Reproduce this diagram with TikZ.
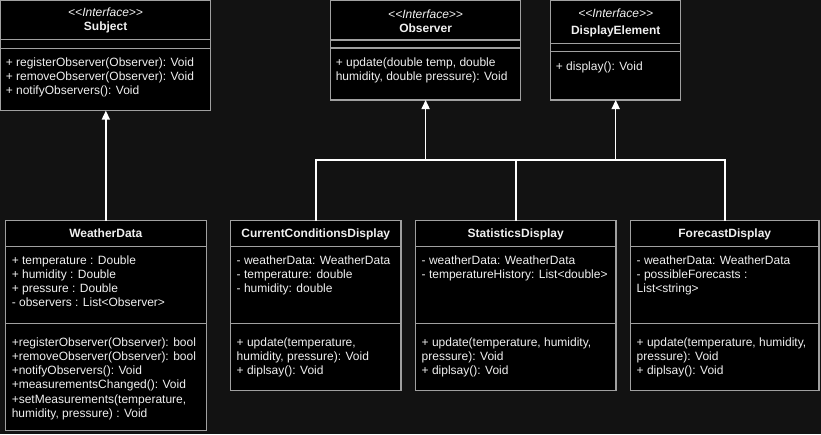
\documentclass[tikz,border=0pt]{standalone}
\usepackage{fontspec}
\setmainfont{Liberation Sans}
\usetikzlibrary{positioning,arrows.meta}
\definecolor{bgcol}{RGB}{18,18,18}
\definecolor{edgecol}{RGB}{160,160,160}
\definecolor{inkcol}{RGB}{240,240,240}
\newcommand{\stereo}{\textit{<\kern0pt<Interface>\kern0pt>}}
\begin{document}
\begin{tikzpicture}[x=1pt,y=-1pt,
box/.style={rectangle,draw=edgecol,fill=black,line width=1.2pt,outer sep=0pt,inner sep=0pt},
head/.style={box,text=inkcol,align=center,font=\fontsize{12}{14.2}\selectfont},
title/.style={head,text height=8.6pt,text depth=0pt,font=\fontsize{12}{14.2}\selectfont\bfseries},
txt/.style={text=inkcol,inner sep=0pt,align=left,font=\fontsize{12}{14.2}\selectfont},
link/.style={draw=white,line width=1.5pt},
gen/.style={link,-{Triangle[width=8pt,length=9pt]}}]
\useasboundingbox (0,0) rectangle (821,434);
\fill[bgcol] (0,0) rectangle (821,434);
\node[head,anchor=north west,minimum width=210pt,minimum height=39pt] (subj) at (0.6,0.6) {\strut\stereo\\\textbf{Subject}};
\node[box,minimum width=210pt,minimum height=9pt,below=0pt of subj] (subj-a) {};
\node[box,minimum width=210pt,minimum height=62pt,below=0pt of subj-a] (subj-m) {};
\node[txt,below right=7.5pt and 5pt of subj-m.north west] (subj-mt) {\strut+ registerObserver(Observer): Void\\+ removeObserver(Observer): Void\\+ notifyObservers(): Void};
\node[head,anchor=north west,minimum width=190pt,minimum height=39.4pt] (obs) at (330.6,0.6) {\strut\stereo\\\textbf{Observer}};
\node[box,minimum width=190pt,minimum height=8pt,below=0pt of obs] (obs-a) {};
\node[box,minimum width=190pt,minimum height=52pt,below=0pt of obs-a] (obs-m) {};
\node[txt,below right=8.5pt and 5pt of obs-m.north west] (obs-mt) {\strut+ update(double temp, double\\humidity, double pressure): Void};
\node[head,anchor=north west,minimum width=130pt,minimum height=43pt] (de) at (550.7,0.6) {\strut\stereo\\[3pt]\textbf{DisplayElement}};
\node[box,minimum width=130pt,minimum height=8pt,below=0pt of de] (de-a) {};
\node[box,minimum width=130pt,minimum height=48.4pt,below=0pt of de-a] (de-m) {};
\node[txt,below right=9pt and 5pt of de-m.north west] (de-mt) {\strut+ display(): Void};
\node[title,anchor=north west,minimum width=200.5pt,minimum height=26pt] (wd) at (5.6,220.6) {WeatherData};
\node[box,minimum width=200.5pt,minimum height=77pt,below=0pt of wd] (wd-a) {};
\node[box,minimum width=200.5pt,minimum height=107pt,below=0pt of wd-a] (wd-m) {};
\node[txt,below right=7.5pt and 6pt of wd-a.north west] (wd-at) {\strut+ temperature : Double\\+ humidity : Double\\+ pressure : Double\\- observers : List<Observer>};
\node[txt,below right=12.5pt and 6pt of wd-m.north west] (wd-mt) {\strut+registerObserver(Observer): bool\\+removeObserver(Observer): bool\\+notifyObservers(): Void\\+measurementsChanged(): Void\\+setMeasurements(temperature,\\humidity, pressure) : Void};
\node[title,anchor=north west,minimum width=170.5pt,minimum height=26pt] (cc) at (230.5,220.6) {CurrentConditionsDisplay};
\node[box,minimum width=170.5pt,minimum height=77pt,below=0pt of cc] (cc-a) {};
\node[box,minimum width=170.5pt,minimum height=67pt,below=0pt of cc-a] (cc-m) {};
\node[txt,below right=7.5pt and 6pt of cc-a.north west] (cc-at) {\strut- weatherData: WeatherData\\- temperature: double\\- humidity: double};
\node[txt,below right=12.5pt and 6pt of cc-m.north west] (cc-mt) {\strut+ update(temperature,\\humidity, pressure): Void\\+ diplsay(): Void};
\node[title,anchor=north west,minimum width=200.5pt,minimum height=26pt] (sd) at (415.5,220.6) {StatisticsDisplay};
\node[box,minimum width=200.5pt,minimum height=77pt,below=0pt of sd] (sd-a) {};
\node[box,minimum width=200.5pt,minimum height=67pt,below=0pt of sd-a] (sd-m) {};
\node[txt,below right=7.5pt and 6pt of sd-a.north west] (sd-at) {\strut- weatherData: WeatherData\\- temperatureHistory: List<double>};
\node[txt,below right=12.5pt and 6pt of sd-m.north west] (sd-mt) {\strut+ update(temperature, humidity,\\pressure): Void\\+ diplsay(): Void};
\node[title,anchor=north west,minimum width=188.5pt,minimum height=26pt] (fd) at (630.5,220.6) {ForecastDisplay};
\node[box,minimum width=188.5pt,minimum height=77pt,below=0pt of fd] (fd-a) {};
\node[box,minimum width=188.5pt,minimum height=67pt,below=0pt of fd-a] (fd-m) {};
\node[txt,below right=7.5pt and 6pt of fd-a.north west] (fd-at) {\strut- weatherData: WeatherData\\- possibleForecasts :\\List<string>};
\node[txt,below right=12.5pt and 6pt of fd-m.north west] (fd-mt) {\strut+ update(temperature, humidity,\\pressure): Void\\+ diplsay(): Void};
\coordinate (bus) at (0,160);
\draw[link] (cc.north) |- (fd.north |- bus) -- (fd.north);
\draw[link] (sd.north) -- (sd.north |- bus);
\draw[gen] (obs-m.south |- bus) -- (obs-m.south);
\draw[gen] (de-m.south |- bus) -- (de-m.south);
\draw[gen] (wd.north) -- (wd.north |- subj-m.south);
\end{tikzpicture}
\end{document}
